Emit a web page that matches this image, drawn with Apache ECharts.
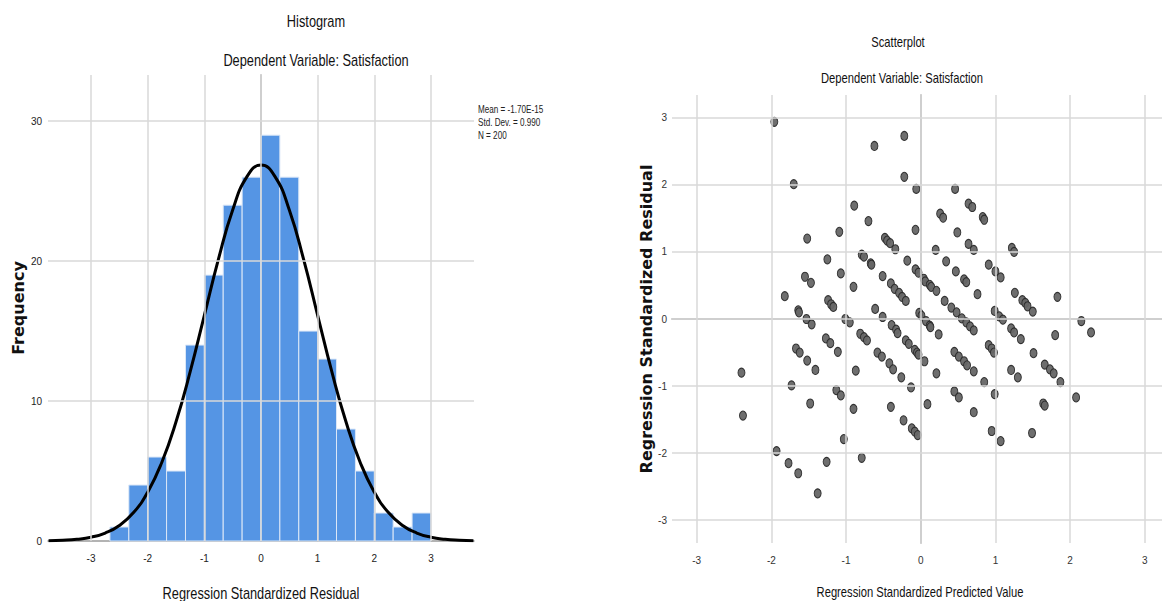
<!DOCTYPE html>
<html>
<head>
<meta charset="utf-8">
<script src="https://cdn.jsdelivr.net/npm/echarts@6/dist/echarts.min.js"></script>
<style>
html,body{margin:0;padding:0;background:#fff;}
#c{width:1162px;height:601px;}
</style>
</head>
<body>
<div id="c"></div>
<script>
// ---------- Histogram data ----------
const binEdges = [-2.667,-2.333,-2,-1.667,-1.333,-1,-0.667,-0.333,0,0.333,0.667,1,1.333,1.667,2,2.333,2.667,3];
const binCounts = [1,4,6,5,14,19,24,26,29,26,15,13,8,5,2,1,2];
const curveX = [-3.75,-3.5,-3.25,-3,-2.75,-2.5,-2.25,-2,-1.75,-1.5,-1.25,-1,-0.75,-0.5,-0.25,0,0.25,0.5,0.75,1,1.25,1.5,1.75,2,2.25,2.5,2.75,3,3.25,3.5,3.75];
const curveY = [0.02,0.05,0.12,0.27,0.57,1.11,2.03,3.49,5.63,8.52,12.10,16.13,20.16,23.65,26.02,26.86,26.02,23.65,20.16,16.13,12.10,8.52,5.63,3.49,2.03,1.11,0.57,0.27,0.12,0.05,0.02];
const histXTicks = [-3,-2,-1,0,1,2,3];
const histYTicks = [0,10,20,30];
const statsLines = ['Mean = -1.70E-15','Std. Dev. = 0.990','N = 200'];

// ---------- Scatter data ----------
const predicted = [-1.96,-1.70,-1.52,-1.82,-1.55,-1.47,-1.64,-1.63,-1.53,-1.46,-1.25,-1.09,-1.07,-1.24,-1.20,-1.17,-0.90,-0.89,-0.70,-0.62,
-0.79,-0.76,-0.67,-0.66,-0.48,-0.45,-0.41,-0.34,-0.51,-0.40,-0.35,-0.29,-0.25,-0.20,-1.01,-0.95,-0.61,-0.51,-0.81,-0.76,
-0.72,-0.39,-0.33,-0.31,-0.20,-0.16,-0.08,-0.05,-0.03,-1.27,-1.21,-1.67,-1.62,-1.52,-1.41,-1.11,-0.87,-0.58,-0.52,-0.42,
-0.37,-0.26,-0.13,-2.40,-2.38,-1.73,-1.48,-1.13,-1.07,-0.90,-0.40,-1.03,-0.79,-1.93,-1.77,-1.64,-1.26,-1.38,-0.23,-0.12,
-0.08,-0.04,0.09,0.21,0.05,-0.22,-0.22,-0.06,0.46,0.64,0.69,0.26,0.30,0.83,0.85,-0.07,0.49,0.20,0.64,0.71,
1.22,1.25,-0.18,0.34,0.47,0.58,0.61,0.91,1.00,1.07,-0.07,-0.03,0.04,0.06,0.12,0.14,0.21,0.32,0.41,0.48,
0.55,0.61,0.66,0.71,0.76,1.26,1.36,1.40,1.43,1.50,1.83,2.15,2.28,-0.02,0.01,0.07,0.12,0.13,0.24,0.99,
1.05,1.10,1.21,1.25,1.34,1.80,0.91,0.95,0.98,0.45,0.51,0.58,0.62,0.71,0.85,0.45,0.51,0.71,0.99,0.95,
1.07,1.21,1.30,1.51,1.66,1.73,1.78,1.87,1.64,1.66,1.49,2.08];
const residual = [2.94,2.01,1.20,0.34,0.63,0.54,0.13,0.10,0.00,-0.08,0.89,1.30,0.68,0.28,0.22,0.18,0.48,1.69,1.46,2.58,
0.96,0.93,0.83,0.81,1.21,1.17,1.13,1.04,0.64,0.53,0.45,0.39,0.33,0.27,0.00,-0.05,0.15,0.03,-0.22,-0.27,
-0.32,-0.09,-0.16,-0.21,-0.32,-0.37,-0.46,-0.50,-0.53,-0.29,-0.36,-0.44,-0.50,-0.62,-0.76,-0.49,-0.77,-0.50,-0.56,-0.66,
-0.75,-0.87,-1.02,-0.80,-1.44,-0.99,-1.26,-1.06,-1.14,-1.34,-1.31,-1.79,-2.07,-1.97,-2.15,-2.30,-2.13,-2.60,-1.51,-1.63,
-1.68,-1.73,-1.27,-0.81,-0.63,2.73,2.12,1.94,1.94,1.72,1.67,1.57,1.51,1.52,1.48,1.33,1.29,1.03,1.12,1.03,
1.06,1.00,0.87,0.86,0.71,0.59,0.55,0.81,0.71,0.62,0.74,0.69,0.60,0.56,0.51,0.48,0.42,0.27,0.17,0.10,
0.01,-0.05,-0.11,-0.17,0.37,0.39,0.28,0.24,0.19,0.11,0.33,-0.03,-0.20,0.09,0.05,-0.03,-0.10,-0.12,-0.23,0.12,
0.04,-0.01,-0.14,-0.20,-0.30,-0.24,-0.39,-0.44,-0.50,-0.49,-0.56,-0.63,-0.69,-0.78,-0.94,-1.08,-1.17,-1.39,-1.12,-1.67,
-1.82,-0.76,-0.87,-0.51,-0.68,-0.75,-0.81,-0.94,-1.26,-1.29,-1.70,-1.17];
const scatterTicks = [-3,-2,-1,0,1,2,3];

// ---------- build ----------
const sans = "'Liberation Sans',Arial,sans-serif";
const wideBold = "'DejaVu Sans',sans-serif";
const gridColor = '#d8d8d8';
const axisColor = '#9a9a9a';

const histData = binCounts.map((c,i)=>[binEdges[i],binEdges[i+1],c]);
const curveData = curveX.map((x,i)=>[x,curveY[i]]);
const scatterData = predicted.map((x,i)=>[x,residual[i]]);

function gridLines(xs, ys){
  return {
    silent:true, symbol:['none','none'], animation:false,
    label:{show:false},
    lineStyle:{color:gridColor,type:'solid',width:1.5},
    emphasis:{disabled:true},
    data: xs.map(v=>({xAxis:v})).concat(ys.map(v=>({yAxis:v})))
  };
}
// condensed text (narrow face look) as real text
function ctext(t, x, y, size, align){
  return {type:'text', x:x, y:y, scaleX:0.8, silent:true,
    style:{text:t, font:size+'px '+sans, fill:'#111', align:align||'center', verticalAlign:'middle'}};
}

const graphics = [
  ctext('Histogram', 316, 21, 16),
  ctext('Dependent Variable: Satisfaction', 316, 60, 16),
  ctext('Regression Standardized Residual', 261, 593, 16),
  ctext('Scatterplot', 898, 43, 14),
  ctext('Dependent Variable: Satisfaction', 902, 79, 14),
  ctext('Regression Standardized Predicted Value', 920, 593, 14)
].concat(statsLines.map((t,i)=>{
  const g = ctext(t, 478, 109+i*13, 11, 'left'); g.scaleX = 0.74; g.style.fill = '#222'; return g;
}));

const chart = echarts.init(document.getElementById('c'), null, {renderer:'svg'});
chart.setOption({
  animation:false,
  backgroundColor:'#fff',
  graphic: graphics,
  grid:[
    {left:48, top:75, width:426, height:466},
    {left:672, top:95, width:490, height:448}
  ],
  xAxis:[
    {gridIndex:0, type:'value', min:-3.76, max:3.76,
     axisLine:{show:true,lineStyle:{color:axisColor,width:1.5}}, axisTick:{show:false}, splitLine:{show:false},
     axisLabel:{customValues:histXTicks, fontFamily:sans, fontSize:10, color:'#222', margin:12}},
    {gridIndex:1, type:'value', min:-3.33, max:3.23,
     axisLine:{show:true,lineStyle:{color:axisColor,width:1.5}}, axisTick:{show:false}, splitLine:{show:false},
     axisLabel:{customValues:scatterTicks, fontFamily:sans, fontSize:10, color:'#333', margin:12}}
  ],
  yAxis:[
    {gridIndex:0, type:'value', min:0, max:33.3,
     name:'Frequency', nameLocation:'middle', nameGap:21, nameRotate:90,
     nameTextStyle:{fontFamily:wideBold,fontSize:16,fontWeight:'bold',color:'#111'},
     axisLine:{show:true,lineStyle:{color:axisColor,width:1.5}}, axisTick:{show:false}, splitLine:{show:false},
     axisLabel:{customValues:histYTicks, fontFamily:sans, fontSize:10, color:'#222', margin:6}},
    {gridIndex:1, type:'value', min:-3.34, max:3.34,
     name:'Regression Standardized Residual', nameLocation:'middle', nameGap:13, nameRotate:90,
     nameTextStyle:{fontFamily:wideBold,fontSize:16,fontWeight:'bold',color:'#111'},
     axisLine:{show:true,lineStyle:{color:axisColor,width:1.5}}, axisTick:{show:false}, splitLine:{show:false},
     axisLabel:{customValues:scatterTicks, fontFamily:sans, fontSize:10, color:'#333', margin:5}}
  ],
  series:[
    {type:'scatter', xAxisIndex:0, yAxisIndex:0, data:[], z:0, silent:true,
     markLine: gridLines(histXTicks, histYTicks.slice(1))},
    {type:'custom', xAxisIndex:0, yAxisIndex:0, z:2, silent:true,
     data:histData, encode:{x:[0,1], y:2},
     renderItem:function(params, api){
       const p0 = api.coord([api.value(0), api.value(2)]);
       const p1 = api.coord([api.value(1), 0]);
       return {type:'rect', shape:{x:p0[0], y:p0[1], width:p1[0]-p0[0], height:p1[1]-p0[1]},
               style:{fill:'#5595e4', stroke:'#dbe7f7', lineWidth:1}};
     }},
    {type:'line', xAxisIndex:0, yAxisIndex:0, z:3, silent:true, data:curveData,
     smooth:true, symbol:'none', lineStyle:{color:'#000', width:3}},
    {type:'scatter', xAxisIndex:1, yAxisIndex:1, data:[], z:0, silent:true,
     markLine: gridLines(scatterTicks, scatterTicks)},
    {type:'scatter', xAxisIndex:1, yAxisIndex:1, z:3, silent:true, data:scatterData,
     symbol:'circle', symbolSize:[7,9],
     itemStyle:{color:'#666666', borderColor:'#2a2a2a', borderWidth:1, opacity:0.95}}
  ]
});
</script>
</body>
</html>
